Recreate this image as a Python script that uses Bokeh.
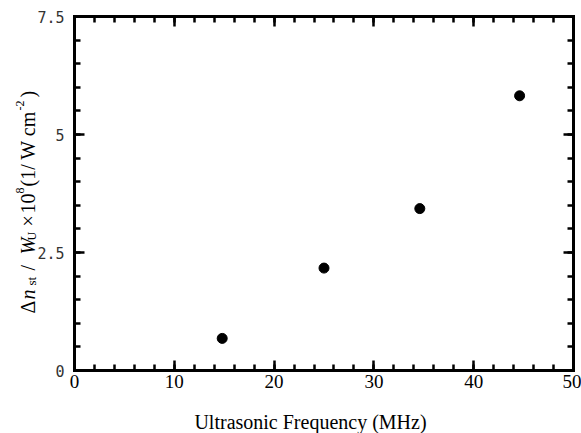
import math
from bokeh.plotting import figure
from bokeh.models import Range1d, LinearAxis, FixedTicker, Label
from bokeh.embed import file_html
from bokeh.resources import INLINE

# ---- data ----
freq_mhz = [14.8, 25.0, 34.6, 44.6]
dn_per_w = [0.68, 2.17, 3.43, 5.82]

x_major = [0, 10, 20, 30, 40, 50]
x_minor = list(range(0, 51, 2))
y_major = [0, 2.5, 5, 7.5]
y_minor = [i * 0.5 for i in range(16)]
y_tick_labels = {0: "0", 2.5: "2.5", 5: "5", 7.5: "7.5"}

x_title = "Ultrasonic Frequency (MHz)"
# y title pieces: (text, size px, italic, shift) ; shift: 0 base, +1 subscript, -1 superscript
y_title_parts = [
    ("\u0394", 20, False, 0),
    ("n", 20, True, 0),
    ("st", 13, False, 1),
    ("/", 20, False, 0),
    ("W", 20, True, 0),
    ("U", 12, False, 1),
    ("\u00d7", 20, False, 0),
    ("10", 20, False, 0),
    ("8", 12, False, -1),
    ("(1/ W cm", 20, False, 0),
    ("-2", 12, False, -1),
    (")", 20, False, 0),
]
# start positions (px from top) of each piece along the vertical title
part_start = [313, 299, 285, 270, 254, 240, 226, 213, 193, 186, 110, 97]

SERIF = "Liberation Serif"
W, H = 581, 433
# plot box in canvas pixels
BOX_L, BOX_R, BOX_T, BOX_B = 74, 573, 16, 370
XMIN, XMAX, YMIN, YMAX = 0, 50, 0, 7.5
sx = (BOX_R - BOX_L) / (XMAX - XMIN)
sy = (BOX_B - BOX_T) / (YMAX - YMIN)

def dx(px):
    return XMIN + (px - BOX_L) / sx

def dy(py):
    return YMIN + (BOX_B - py) / sy

# the frame covers the whole canvas; axes are pinned to the plot box
p = figure(width=W, height=H, output_backend="svg", toolbar_location=None,
           x_range=Range1d(dx(0), dx(W)), y_range=Range1d(dy(H), dy(0)),
           x_axis_location=None, y_axis_location=None, min_border=0,
           min_border_left=0, min_border_right=0, min_border_top=0, min_border_bottom=0)
p.background_fill_color = "white"
p.border_fill_color = "white"
p.xgrid.visible = False
p.ygrid.visible = False
p.outline_line_color = None

def make_axis(ticks, minor, loc, bounds, show_labels):
    ax = LinearAxis(ticker=FixedTicker(ticks=ticks, minor_ticks=minor),
                    fixed_location=loc, bounds=bounds)
    ax.axis_line_width = 3
    ax.axis_line_color = "black"
    ax.axis_line_cap = "square"
    ax.major_tick_in = 10
    ax.major_tick_out = 0
    ax.minor_tick_in = 6
    ax.minor_tick_out = 0
    ax.major_tick_line_width = 2.5
    ax.minor_tick_line_width = 2.5
    ax.major_tick_line_color = "black"
    ax.minor_tick_line_color = "black"
    if not show_labels:
        ax.major_label_text_font_size = "0px"
        ax.major_label_text_color = None
        ax.major_label_standoff = 0
    return ax

xb = make_axis(x_major, x_minor, YMIN, (XMIN, XMAX), True)
xb.major_label_text_font = SERIF
xb.major_label_text_font_size = "19px"
xb.major_label_text_color = "black"
xb.major_label_standoff = 4
p.add_layout(xb, "below")

xt = make_axis(x_major, x_minor, YMAX, (XMIN, XMAX), False)
p.add_layout(xt, "above")

yl = make_axis(y_major, y_minor, XMIN, (YMIN, YMAX), True)
yl.major_label_overrides = y_tick_labels
yl.major_label_text_font = "DejaVu Sans Mono"
yl.major_label_text_font_size = "15px"
yl.major_label_text_color = "#333333"
yl.major_label_standoff = 10
p.add_layout(yl, "left")

yr = make_axis(y_major, y_minor, XMAX, (YMIN, YMAX), False)
p.add_layout(yr, "right")

p.scatter(freq_mhz, dn_per_w, size=10, color="black", marker="circle")

# x title
p.add_layout(Label(x=dx(310), y=dy(421), text=x_title, text_align="center",
                   text_baseline="alphabetic", text_font=SERIF,
                   text_font_size="20px", text_color="black"))

# rotated y title
base_x = {0: 27, 1: 31, -1: 19}
for (txt, sz, it, sh), spy in zip(y_title_parts, part_start):
    p.add_layout(Label(x=dx(base_x[sh]), y=dy(spy), text=txt,
                       angle=math.pi / 2, angle_units="rad",
                       text_align="left", text_baseline="alphabetic",
                       text_font=SERIF, text_font_size=f"{sz}px",
                       text_font_style="italic" if it else "normal",
                       text_color="black"))

open("out.html", "w").write(file_html(p, INLINE))
